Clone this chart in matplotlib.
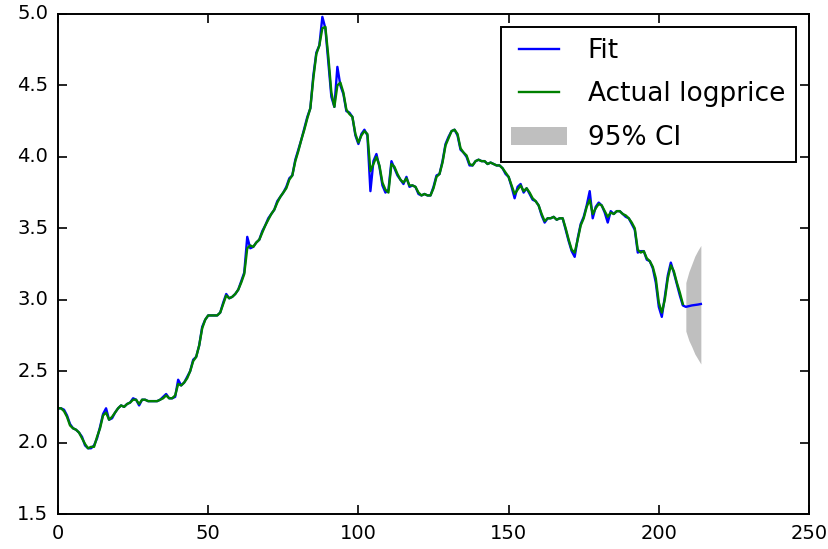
import matplotlib
matplotlib.use("Agg")
import matplotlib.pyplot as plt

# ---- data ----
actual_logprice = [
    2.24, 2.24, 2.22, 2.18, 2.12, 2.10, 2.09, 2.07, 2.03, 1.99,
    1.96, 1.97, 1.97, 2.04, 2.10, 2.19, 2.21, 2.16, 2.18, 2.21,
    2.24, 2.26, 2.25, 2.27, 2.28, 2.30, 2.30, 2.27, 2.30, 2.30,
    2.29, 2.29, 2.29, 2.29, 2.30, 2.31, 2.33, 2.31, 2.31, 2.33,
    2.41, 2.40, 2.42, 2.45, 2.50, 2.57, 2.60, 2.68, 2.80, 2.86,
    2.89, 2.89, 2.89, 2.89, 2.91, 2.97, 3.03, 3.01, 3.02, 3.04,
    3.07, 3.12, 3.18, 3.36, 3.38, 3.37, 3.40, 3.42, 3.47, 3.52,
    3.56, 3.60, 3.63, 3.68, 3.72, 3.75, 3.78, 3.84, 3.87, 3.97,
    4.04, 4.12, 4.19, 4.27, 4.34, 4.55, 4.72, 4.78, 4.90, 4.91,
    4.70, 4.45, 4.35, 4.50, 4.52, 4.45, 4.33, 4.30, 4.28, 4.16,
    4.10, 4.15, 4.18, 4.16, 3.90, 3.95, 4.00, 3.94, 3.82, 3.77,
    3.75, 3.95, 3.93, 3.88, 3.84, 3.82, 3.85, 3.80, 3.80, 3.79,
    3.75, 3.73, 3.74, 3.73, 3.73, 3.78, 3.86, 3.88, 3.96, 4.08,
    4.13, 4.18, 4.19, 4.16, 4.06, 4.03, 4.01, 3.95, 3.94, 3.97,
    3.98, 3.97, 3.97, 3.95, 3.96, 3.95, 3.94, 3.94, 3.92, 3.89,
    3.86, 3.80, 3.74, 3.77, 3.80, 3.76, 3.78, 3.75, 3.71, 3.69,
    3.66, 3.60, 3.55, 3.57, 3.57, 3.58, 3.56, 3.57, 3.57, 3.50,
    3.42, 3.35, 3.33, 3.42, 3.52, 3.57, 3.65, 3.70, 3.60, 3.64,
    3.67, 3.66, 3.62, 3.58, 3.61, 3.60, 3.62, 3.62, 3.60, 3.59,
    3.57, 3.54, 3.50, 3.35, 3.33, 3.34, 3.29, 3.27, 3.23, 3.15,
    2.98, 2.91, 3.00, 3.15, 3.24, 3.20, 3.12, 3.05, 2.97,
]

fit_logprice = [
    2.24, 2.24, 2.23, 2.19, 2.13, 2.10, 2.09, 2.07, 2.04, 1.98,
    1.96, 1.96, 1.98, 2.03, 2.11, 2.20, 2.24, 2.16, 2.17, 2.21,
    2.24, 2.26, 2.25, 2.27, 2.28, 2.31, 2.30, 2.26, 2.30, 2.30,
    2.29, 2.29, 2.29, 2.29, 2.30, 2.32, 2.34, 2.31, 2.31, 2.32,
    2.44, 2.40, 2.42, 2.46, 2.50, 2.58, 2.60, 2.68, 2.81, 2.86,
    2.89, 2.89, 2.89, 2.89, 2.91, 2.98, 3.04, 3.01, 3.02, 3.04,
    3.07, 3.13, 3.19, 3.44, 3.36, 3.37, 3.40, 3.42, 3.48, 3.52,
    3.57, 3.60, 3.63, 3.69, 3.72, 3.75, 3.79, 3.85, 3.87, 3.98,
    4.05, 4.12, 4.20, 4.28, 4.34, 4.57, 4.73, 4.78, 4.98, 4.90,
    4.66, 4.42, 4.35, 4.63, 4.50, 4.44, 4.32, 4.31, 4.28, 4.15,
    4.09, 4.16, 4.19, 4.15, 3.76, 3.97, 4.02, 3.93, 3.80, 3.75,
    3.77, 3.97, 3.92, 3.87, 3.84, 3.81, 3.86, 3.79, 3.80, 3.79,
    3.74, 3.73, 3.74, 3.73, 3.73, 3.79, 3.87, 3.88, 3.97, 4.09,
    4.14, 4.18, 4.19, 4.15, 4.05, 4.03, 4.00, 3.94, 3.94, 3.97,
    3.98, 3.97, 3.97, 3.95, 3.96, 3.95, 3.94, 3.94, 3.92, 3.88,
    3.86, 3.79, 3.71, 3.79, 3.81, 3.75, 3.78, 3.74, 3.70, 3.69,
    3.66, 3.59, 3.54, 3.57, 3.57, 3.58, 3.56, 3.57, 3.57, 3.49,
    3.41, 3.34, 3.30, 3.43, 3.53, 3.58, 3.66, 3.76, 3.57, 3.65,
    3.68, 3.66, 3.61, 3.54, 3.62, 3.60, 3.62, 3.62, 3.60, 3.58,
    3.57, 3.53, 3.49, 3.33, 3.34, 3.34, 3.28, 3.27, 3.22, 3.12,
    2.95, 2.88, 3.02, 3.17, 3.26, 3.19, 3.11, 3.03, 2.96,
    2.950, 2.955, 2.960, 2.963, 2.966, 2.970,
]

ci_index = [209, 210, 211, 212, 213, 214]
ci_lower = [2.78, 2.715, 2.67, 2.62, 2.585, 2.55]
ci_upper = [3.12, 3.195, 3.25, 3.305, 3.345, 3.38]

x_ticks = [0, 50, 100, 150, 200, 250]
y_ticks = [1.5, 2.0, 2.5, 3.0, 3.5, 4.0, 4.5, 5.0]

# ---- plot ----
plt.style.use("classic")
fig = plt.figure(figsize=(8.29, 5.49), dpi=100, facecolor="white")
ax = fig.add_axes([58 / 829, 1 - 514 / 549, (809 - 58) / 829, (514 - 14) / 549])

ax.plot(range(len(fit_logprice)), fit_logprice, color="blue", lw=1.7, label="Fit")
ax.plot(range(len(actual_logprice)), actual_logprice, color="green", lw=1.7,
        label="Actual logprice")
ax.fill_between(ci_index, ci_lower, ci_upper, color="gray", alpha=0.5, lw=0,
                label="95% CI")

ax.set_xlim(0, 250)
ax.set_ylim(1.5, 5.0)
ax.set_xticks(x_ticks)
ax.set_yticks(y_ticks)
ax.set_yticklabels([f"{v:.1f}" for v in y_ticks])
ax.tick_params(labelsize=14, length=6.5, width=1.2, direction="in",
               top=True, right=True, pad=7)
for s in ax.spines.values():
    s.set_linewidth(1.4)

leg = ax.legend(loc="upper right", fontsize=19, borderaxespad=0.5,
                handlelength=2.1, fancybox=False, frameon=True,
                labelspacing=0.67)
leg.get_frame().set_linewidth(1.4)
leg.get_frame().set_edgecolor("black")

fig.savefig("out.png", dpi=100, facecolor="white")
